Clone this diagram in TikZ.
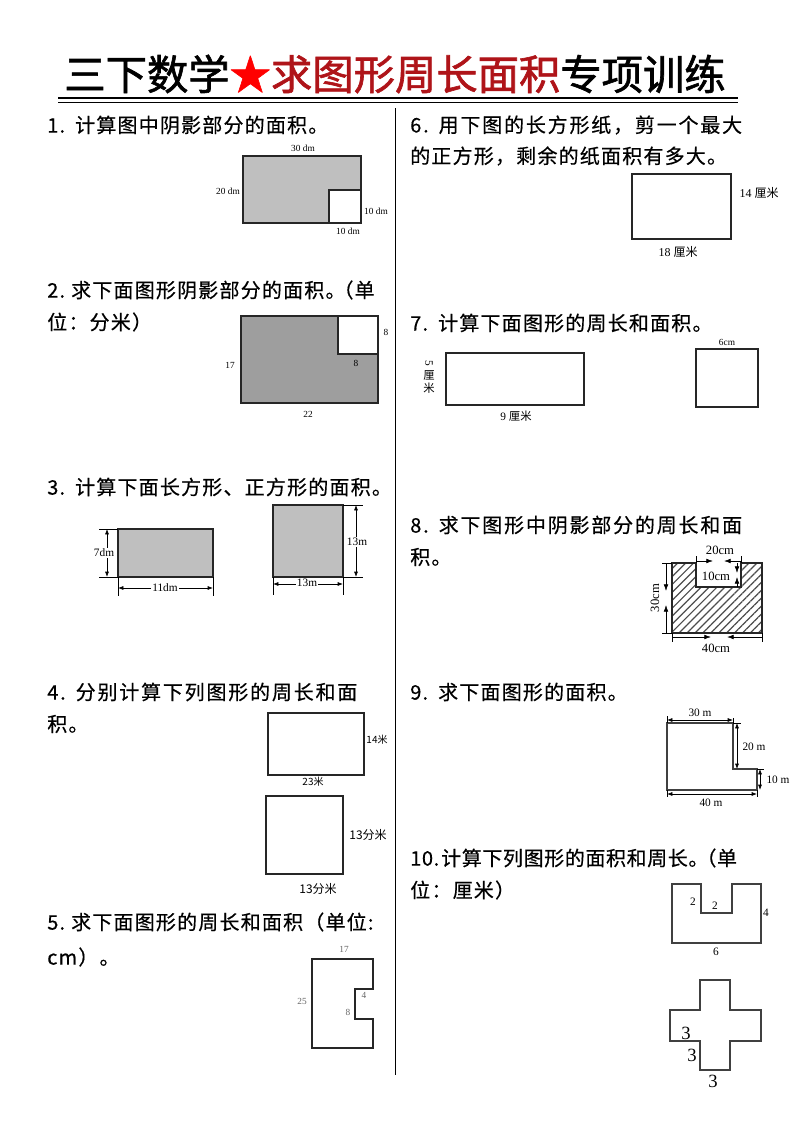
\documentclass[tikz,border=0pt]{standalone}
\usepackage{fontspec}
\setmainfont{Liberation Serif}
\newfontfamily\cjk{Noto Sans CJK SC}
\newfontfamily\cjktext{Noto Sans CJK SC}[LetterSpace=6, FakeBold=0.5]
\newfontfamily\cjktitel{Noto Sans CJK SC}[FakeBold=1.5]
\usetikzlibrary{arrows.meta,patterns.meta}

\definecolor{titelrot}{RGB}{175,20,25}

\tikzset{
  titel/.style={inner sep=0pt, font=\cjktitel\fontsize{31}{34}\selectfont},
  aufgabe/.style={anchor=west, inner sep=0pt, font=\cjktext\fontsize{15}{17}\selectfont},
  figur/.style={draw=black!85, line width=0.8pt},
  mass/.style={inner sep=1pt, font=\fontsize{7}{8}\selectfont},
  massmittel/.style={inner sep=1pt, font=\fontsize{8.5}{10}\selectfont},
  massgross/.style={inner sep=1pt, font=\fontsize{14}{15}\selectfont},
  masscjk/.style={inner sep=1pt, font=\cjk\fontsize{7.5}{9}\selectfont},
  masspfeil/.style={{Latex[length=4pt,width=3pt]}-{Latex[length=4pt,width=3pt]}, line width=0.5pt},
  spitze/.style={-{Latex[length=5pt,width=3.5pt]}, line width=0.5pt},
}

\begin{document}
\begin{tikzpicture}[x=0.75pt, y=-0.75pt]
    \useasboundingbox (0,0) rectangle (793,1122);

    % Titel
    \node[titel] (titel) at (395,74) {三下数学{\color{red}★}{\color{titelrot}求图形周长面积}专项训练};
    \draw[line width=2.2pt] (58,98) -- (738,98);
    \draw[line width=0.9pt] (58,102.5) -- (738,102.5);

    % Trennlinie
    \draw[line width=0.6pt] (395,108) -- (395,1075);

    % Aufgabentexte links
    \node[aufgabe] (a1) at (47,125) {1.\hspace{0.5em}计算图中阴影部分的面积。};
    \node[aufgabe] (a2) at (47,290) {2.\hspace{0.3em}求下面图形阴影部分的面积。\kern-0.6em（单};
    \node[aufgabe] (a2b) at (47,322) {位：分米）};
    \node[aufgabe] (a3) at (47,487) {3.\hspace{0.5em}计算下面长方形、正方形的面积。};
    \node[aufgabe] (a4) at (47,692) {\addfontfeature{LetterSpace=9}4.\hspace{0.5em}分别计算下列图形的周长和面};
    \node[aufgabe] (a4b) at (47,724) {积。};
    \node[aufgabe] (a5) at (47,922) {5.\hspace{0.3em}求下面图形的周长和面积（单位:};
    \node[aufgabe] (a5b) at (47,957) {cm）。};

    % Aufgabentexte rechts
    \node[aufgabe] (a6) at (410,125) {\addfontfeature{LetterSpace=9}6.\hspace{0.5em}用下图的长方形纸，剪一个最大};
    \node[aufgabe] (a6b) at (410,156) {的正方形，剩余的纸面积有多大。};
    \node[aufgabe] (a7) at (410,323) {7.\hspace{0.5em}计算下面图形的周长和面积。};
    \node[aufgabe] (a8) at (410,525) {\addfontfeature{LetterSpace=9}8.\hspace{0.5em}求下图形中阴影部分的周长和面};
    \node[aufgabe] (a8b) at (410,557) {积。};
    \node[aufgabe] (a9) at (410,692) {9.\hspace{0.5em}求下面图形的面积。};
    \node[aufgabe] (a10) at (410,858) {\addfontfeature{LetterSpace=3}10.\hspace{0.1em}计算下列图形的面积和周长。\kern-0.6em（单};
    \node[aufgabe] (a10b) at (410,890) {位：厘米）};

    % Figur 1
    \filldraw[figur, fill=black!25] (243,156) rectangle (361,223);
    \filldraw[figur, fill=white] (329,190) rectangle (361,223);
    \node[mass] (m1a) at (303,148) {30 dm};
    \node[mass] (m1b) at (228,191) {20 dm};
    \node[mass] (m1c) at (376,211) {10 dm};
    \node[mass] (m1d) at (348,231) {10 dm};

    % Figur 2
    \filldraw[figur, fill=black!38] (241,316) rectangle (378,403);
    \filldraw[figur, fill=white] (338,316) rectangle (378,354);
    \node[mass] (m2a) at (386,332) {8};
    \node[mass] (m2b) at (356,363) {8};
    \node[mass] (m2c) at (230,365) {17};
    \node[mass] (m2d) at (308,414) {22};

    % Figur 3: Rechteck
    \filldraw[figur, fill=black!25] (118,529) rectangle (213,577);
    \draw[line width=0.5pt] (99,529) -- (118,529) (99,577) -- (118,577);
    \draw[masspfeil] (107,529) -- (107,577);
    \node[massmittel, fill=white] (m3a) at (104,553) {7dm};
    \draw[line width=0.5pt] (118,577) -- (118,596) (213,577) -- (213,596);
    \draw[masspfeil] (118,588) -- (213,588);
    \node[massmittel, fill=white] (m3b) at (165,588) {11dm};

    % Figur 3: Quadrat
    \filldraw[figur, fill=black!25] (273,505) rectangle (343,577);
    \draw[line width=0.5pt] (343,505) -- (363,505) (343,577) -- (363,577);
    \draw[masspfeil] (356,505) -- (356,577);
    \node[massmittel, fill=white] (m3c) at (357,542) {13m};
    \draw[line width=0.5pt] (273,577) -- (273,595) (343,577) -- (343,595);
    \draw[masspfeil] (273,584) -- (343,584);
    \node[massmittel, fill=white] (m3d) at (307,583) {13m};

    % Figur 4
    \draw[figur] (268,713) rectangle (364,775);
    \node[masscjk] (m4a) at (377,740) {14米};
    \node[masscjk] (m4b) at (313,782) {23米};
    \draw[figur] (266,796) rectangle (343,874);
    \node[masscjk, font=\cjk\fontsize{9}{10}\selectfont] (m4c) at (368,835) {13分米};
    \node[masscjk, font=\cjk\fontsize{9}{10}\selectfont] (m4d) at (318,889) {13分米};

    % Figur 5
    \draw[figur] (312,959) -- (373,959) -- (373,989) -- (355,989) -- (355,1019)
        -- (373,1019) -- (373,1048) -- (312,1048) -- cycle;
    \node[mass, text=black!60] (m5a) at (344,949) {17};
    \node[mass, text=black!60] (m5b) at (302,1001) {25};
    \node[mass, text=black!60] (m5c) at (364,995) {4};
    \node[mass, text=black!60] (m5d) at (348,1012) {8};

    % Figur 6
    \draw[figur] (632,174) rectangle (731,239);
    \node[masscjk, font=\fontsize{9}{10}\selectfont] (m6a) at (759,193) {14 {\cjk 厘米}};
    \node[masscjk, font=\fontsize{9}{10}\selectfont] (m6b) at (678,252) {18 {\cjk 厘米}};

    % Figur 7
    \draw[figur] (446,353) rectangle (584,405);
    \node[inner sep=0pt, rotate=-90, font=\fontsize{8.5}{10}\selectfont] (m7a) at (429,363) {5};
    \node[inner sep=0pt, font=\cjk\fontsize{8.5}{10}\selectfont] (m7b) at (429,375) {厘};
    \node[inner sep=0pt, font=\cjk\fontsize{8.5}{10}\selectfont] (m7c) at (429,388) {米};
    \node[masscjk, font=\fontsize{8.5}{10}\selectfont] (m7d) at (516,416) {9 {\cjk 厘米}};
    \draw[figur] (696,349) rectangle (758,407);
    \node[mass] (m7e) at (727,342) {6cm};

    % Figur 8
    \fill[pattern={Lines[angle=45, distance=4.2pt, line width=0.9pt]}, pattern color=black!70]
        (672,563) -- (696,563) -- (696,587) -- (741,587) -- (741,563) -- (762,563)
        -- (762,633) -- (672,633) -- cycle;
    \draw[figur] (672,563) -- (696,563) -- (696,587) -- (741,587) -- (741,563) -- (762,563)
        -- (762,633) -- (672,633) -- cycle;
    \draw[line width=0.5pt] (696,556) -- (696,563) (741,556) -- (741,563);
    \draw[spitze] (696,561) -- (713,561);
    \draw[spitze] (741,561) -- (724,561);
    \node[massmittel, font=\fontsize{9.5}{10}\selectfont] (m8a) at (720,550) {20cm};
    \draw[spitze] (737,563) -- (737,573);
    \draw[spitze] (737,587) -- (737,577);
    \node[massmittel, font=\fontsize{9.5}{10}\selectfont] (m8b) at (716,576) {10cm};
    \draw[line width=0.5pt] (662,563) -- (672,563) (662,633) -- (672,633);
    \draw[spitze] (666,563) -- (666,591);
    \draw[spitze] (666,633) -- (666,605);
    \node[massmittel, rotate=90, font=\fontsize{9.5}{10}\selectfont] (m8c) at (655,598) {30cm};
    \draw[line width=0.5pt] (672,633) -- (672,642) (762,633) -- (762,642);
    \draw[spitze] (672,637) -- (711,637);
    \draw[spitze] (762,637) -- (727,637);
    \node[massmittel, font=\fontsize{9.5}{10}\selectfont] (m8d) at (716,648) {40cm};

    % Figur 9
    \draw[figur, draw=black!75] (667,723) -- (733,723) -- (733,769) -- (757,769)
        -- (757,790) -- (667,790) -- cycle;
    \draw[line width=0.5pt] (667,716) -- (667,723) (667,790) -- (667,797)
        (733,718) -- (733,723) (733,723) -- (741,723)
        (757,769) -- (764,769) (757,790) -- (757,797);
    \draw[masspfeil] (667,720) -- (733,720);
    \draw[masspfeil] (737,723) -- (737,769);
    \draw[masspfeil] (760,769) -- (760,790);
    \draw[masspfeil] (667,794) -- (757,794);
    \node[massmittel] (m9a) at (700,713) {30 m};
    \node[massmittel] (m9b) at (754,747) {20 m};
    \node[massmittel] (m9c) at (778,780) {10 m};
    \node[massmittel] (m9d) at (711,803) {40 m};

    % Figur 10: U-Form
    \draw[figur, draw=black!75] (672,884) -- (672,943) -- (761,943) -- (761,884) -- (732,884)
        -- (732,913) -- (701,913) -- (701,884) -- cycle;
    \node[massmittel] (m10a) at (693,902) {2};
    \node[massmittel] (m10b) at (715,906) {2};
    \node[massmittel] (m10c) at (766,913) {4};
    \node[massmittel] (m10d) at (716,952) {6};

    % Figur 10: Kreuz
    \draw[figur, draw=black!75] (700,980) -- (730,980) -- (730,1010) -- (761,1010) -- (761,1041)
        -- (730,1041) -- (730,1070) -- (700,1070) -- (700,1041) -- (670,1041)
        -- (670,1010) -- (700,1010) -- cycle;
    \node[massgross] (m10e) at (686,1033) {3};
    \node[massgross] (m10f) at (692,1055) {3};
    \node[massgross] (m10g) at (713,1081) {3};
\end{tikzpicture}
\end{document}
